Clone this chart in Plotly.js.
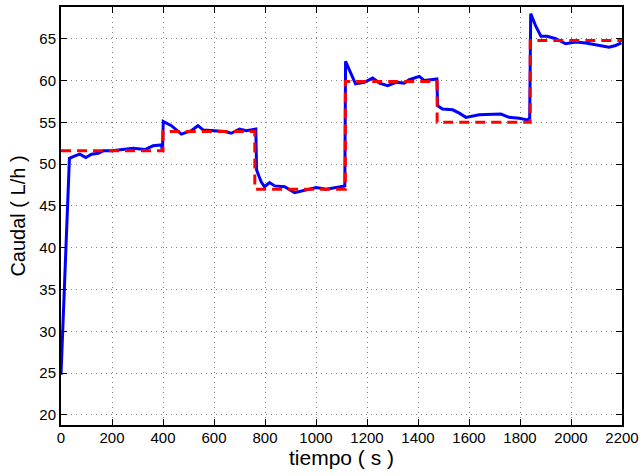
<!DOCTYPE html>
<html>
<head>
<meta charset="utf-8">
<script src="https://cdn.plot.ly/plotly-3.0.1.min.js"></script>
<style>
  html, body { margin: 0; padding: 0; background: #fff; }
  #chart { width: 644px; height: 476px; }
</style>
</head>
<body>
<div id="chart"></div>
<script>
// Measured flow (blue) over time
const tMedido = [0, 33, 55, 74, 97, 120, 146, 166, 200, 237, 283, 329, 361, 394, 398, 401,
  433, 472, 511, 537, 557, 603, 642, 668, 700, 727, 764, 767, 785, 798, 818, 838, 877,
  916, 955, 1001, 1040, 1079, 1113, 1116, 1131, 1155, 1190, 1222, 1249, 1281, 1314,
  1346, 1366, 1405, 1425, 1474, 1477, 1496, 1536, 1562, 1588, 1640, 1725, 1757, 1797,
  1829, 1838, 1842, 1862, 1882, 1907, 1940, 1979, 2018, 2058, 2110, 2149, 2175, 2198];
const qMedido = [24.8, 50.7, 51.0, 51.2, 50.8, 51.2, 51.3, 51.6, 51.6, 51.7, 51.9, 51.75, 52.2, 52.3, 51.5, 55.1,
  54.6, 53.6, 54.0, 54.6, 54.1, 54.0, 53.9, 53.7, 54.2, 54.0, 54.2, 49.3, 47.9, 47.3, 47.8, 47.4, 47.3,
  46.6, 46.9, 47.2, 47.0, 47.2, 47.4, 62.3, 61.3, 59.6, 59.8, 60.3, 59.7, 59.4, 59.8,
  59.7, 60.1, 60.5, 60.0, 60.2, 57.0, 56.6, 56.5, 56.1, 55.6, 55.9, 56.0, 55.6, 55.5,
  55.3, 55.5, 68.0, 66.5, 65.3, 65.3, 65.0, 64.4, 64.6, 64.5, 64.2, 64.0, 64.2, 64.5];

// Set-point (red dashed steps)
const tRef = [0, 400, 760, 1115, 1475, 1840, 2200];
const qRef = [51.6, 53.9, 47.0, 59.9, 55.0, 64.8, 64.8];

const xTicks = [0, 200, 400, 600, 800, 1000, 1200, 1400, 1600, 1800, 2000, 2200];
const yTicks = [20, 25, 30, 35, 40, 45, 50, 55, 60, 65];

const fontFam = '"Liberation Sans", Arial, Helvetica, sans-serif';

const traces = [
  {
    x: tMedido, y: qMedido, type: 'scatter', mode: 'lines',
    line: { color: '#0000ff', width: 3 },
    hoverinfo: 'skip'
  },
  {
    x: tRef, y: qRef, type: 'scatter', mode: 'lines',
    line: { color: '#ff0000', width: 3, dash: '10px,6px', shape: 'hv' },
    hoverinfo: 'skip'
  }
];

const axisCommon = {
  showline: true, linecolor: '#000', linewidth: 2, mirror: 'ticks',
  ticks: 'inside', ticklen: 6, tickwidth: 1, tickcolor: '#000',
  showgrid: true, gridcolor: '#808080', gridwidth: 1, griddash: '1px,4px',
  zeroline: false,
  tickfont: { family: fontFam, size: 15, color: '#000' }
};

const layout = {
  width: 644, height: 476,
  margin: { l: 61, r: 22, t: 7, b: 51 },
  paper_bgcolor: '#fff', plot_bgcolor: '#fff',
  showlegend: false,
  xaxis: Object.assign({}, axisCommon, {
    range: [0, 2200], tickvals: xTicks, ticktext: xTicks.map(String),
    ticklabelstandoff: -2,
    title: { text: 'tiempo ( s )', font: { family: fontFam, size: 21, color: '#000' }, standoff: 2 }
  }),
  yaxis: Object.assign({}, axisCommon, {
    range: [18.8, 68.8], tickvals: yTicks, ticktext: yTicks.map(String),
    title: { text: 'Caudal ( L/h )', font: { family: fontFam, size: 20, color: '#000' }, standoff: 8 }
  })
};

Plotly.newPlot('chart', traces, layout, { staticPlot: true, displayModeBar: false });
</script>
</body>
</html>
